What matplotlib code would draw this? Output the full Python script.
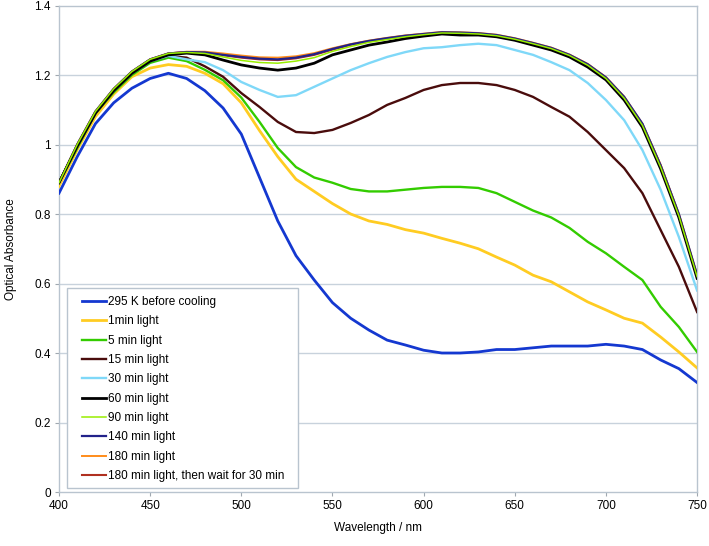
import matplotlib
matplotlib.use("Agg")
import matplotlib.pyplot as plt
from matplotlib.patches import Rectangle

plt.rcParams["font.family"] = ["Liberation Sans", "DejaVu Sans"]

wavelength = [400, 410, 420, 430, 440, 450, 460, 470, 480, 490,
              500, 510, 520, 530, 540, 550, 560, 570, 580, 590,
              600, 610, 620, 630, 640, 650, 660, 670, 680, 690,
              700, 710, 720, 730, 740, 750]

before_cooling = [0.86, 0.965, 1.06, 1.12, 1.162, 1.19, 1.205, 1.19, 1.155, 1.105,
                  1.03, 0.905, 0.78, 0.68, 0.61, 0.545, 0.50, 0.466, 0.437, 0.423,
                  0.408, 0.40, 0.40, 0.403, 0.41, 0.41, 0.415, 0.42, 0.42, 0.42,
                  0.425, 0.42, 0.41, 0.38, 0.355, 0.315]
light_1 = [0.88, 0.985, 1.08, 1.145, 1.195, 1.22, 1.23, 1.225, 1.205, 1.175,
           1.12, 1.04, 0.965, 0.90, 0.865, 0.83, 0.80, 0.78, 0.77, 0.755,
           0.745, 0.73, 0.716, 0.70, 0.676, 0.653, 0.624, 0.605, 0.576, 0.547,
           0.524, 0.50, 0.486, 0.446, 0.403, 0.357]
light_5 = [0.89, 0.99, 1.09, 1.15, 1.20, 1.235, 1.25, 1.24, 1.215, 1.185,
           1.135, 1.065, 0.99, 0.935, 0.905, 0.89, 0.872, 0.865, 0.865, 0.87,
           0.875, 0.878, 0.878, 0.875, 0.86, 0.835, 0.81, 0.79, 0.76, 0.72,
           0.687, 0.648, 0.61, 0.533, 0.475, 0.403]
light_15 = [0.89, 0.995, 1.09, 1.155, 1.205, 1.24, 1.255, 1.25, 1.225, 1.195,
            1.148, 1.108, 1.065, 1.036, 1.033, 1.042, 1.062, 1.085, 1.114, 1.134,
            1.157, 1.171, 1.177, 1.177, 1.171, 1.157, 1.137, 1.108, 1.08, 1.036,
            0.984, 0.932, 0.86, 0.754, 0.648, 0.518]
light_30 = [0.89, 0.995, 1.09, 1.155, 1.205, 1.24, 1.255, 1.245, 1.237, 1.214,
            1.18, 1.157, 1.137, 1.142, 1.166, 1.19, 1.214, 1.234, 1.252, 1.266,
            1.277, 1.28, 1.286, 1.29, 1.286, 1.272, 1.258, 1.237, 1.214, 1.177,
            1.128, 1.07, 0.984, 0.87, 0.734, 0.58]
light_60 = [0.89, 0.995, 1.09, 1.155, 1.205, 1.24, 1.258, 1.263, 1.258, 1.243,
            1.229, 1.22, 1.214, 1.22, 1.234, 1.258, 1.272, 1.286, 1.295, 1.305,
            1.312, 1.318, 1.315, 1.315, 1.31, 1.30, 1.286, 1.272, 1.252, 1.223,
            1.186, 1.128, 1.05, 0.93, 0.79, 0.615]
light_90 = [0.89, 1.0, 1.095, 1.16, 1.21, 1.245, 1.262, 1.265, 1.262, 1.252,
            1.242, 1.236, 1.234, 1.24, 1.25, 1.268, 1.282, 1.294, 1.302, 1.31,
            1.316, 1.321, 1.32, 1.318, 1.313, 1.303, 1.29, 1.276, 1.256, 1.228,
            1.19, 1.133, 1.055, 0.935, 0.795, 0.62]
light_140 = [0.89, 1.0, 1.095, 1.16, 1.21, 1.245, 1.262, 1.266, 1.265, 1.258,
             1.252, 1.247, 1.245, 1.25, 1.26, 1.275, 1.288, 1.298, 1.306, 1.313,
             1.318, 1.323, 1.322, 1.32, 1.315, 1.305, 1.292, 1.278, 1.258, 1.231,
             1.193, 1.137, 1.06, 0.94, 0.80, 0.625]
light_180 = [0.89, 1.0, 1.095, 1.16, 1.21, 1.245, 1.262, 1.267, 1.267, 1.262,
             1.256, 1.251, 1.25, 1.254, 1.263, 1.277, 1.289, 1.299, 1.307, 1.314,
             1.319, 1.324, 1.323, 1.321, 1.316, 1.306, 1.293, 1.279, 1.259, 1.232,
             1.194, 1.138, 1.06, 0.942, 0.80, 0.625]
light_180_wait = [0.89, 1.0, 1.095, 1.16, 1.21, 1.245, 1.262, 1.266, 1.264, 1.257,
                  1.25, 1.245, 1.243, 1.248, 1.258, 1.273, 1.287, 1.297, 1.305, 1.312,
                  1.317, 1.322, 1.321, 1.319, 1.314, 1.304, 1.291, 1.277, 1.257, 1.23,
                  1.192, 1.136, 1.058, 0.94, 0.798, 0.622]

# label, values, colour, line width, drawing order
series = [
    ("295 K before cooling", before_cooling, "#1438d0", 2.0, 3),
    ("1min light", light_1, "#ffcc22", 2.0, 3),
    ("5 min light", light_5, "#33cc00", 1.7, 3),
    ("15 min light", light_15, "#4a0c0c", 1.7, 3),
    ("30 min light", light_30, "#7fd8f8", 1.7, 3),
    ("60 min light", light_60, "#000000", 2.0, 5),
    ("90 min light", light_90, "#99ee00", 1.1, 6),
    ("140 min light", light_140, "#22228a", 1.6, 4),
    ("180 min light", light_180, "#ff8c1a", 1.4, 3.5),
    ("180 min light, then wait for 30 min", light_180_wait, "#b03020", 1.5, 3.2),
]

fig = plt.figure(figsize=(7.09, 5.46), dpi=100)
ax = fig.add_axes([0.0832, 0.0989, 0.9, 0.891])

grid_col = "#c8d2dc"
for y in [0.2, 0.4, 0.6, 0.8, 1.0, 1.2]:
    ax.axhline(y, color=grid_col, lw=1.0, zorder=0)

for label, values, color, lw, z in series:
    ax.plot(wavelength, values, color=color, lw=lw, label=label, zorder=z)

ax.set_xlim(400, 750)
ax.set_ylim(0, 1.4)
ax.set_xticks(range(400, 751, 50))
ax.set_yticks([0, 0.2, 0.4, 0.6, 0.8, 1.0, 1.2, 1.4])
ax.set_yticklabels(["0", "0.2", "0.4", "0.6", "0.8", "1", "1.2", "1.4"])
ax.tick_params(direction="out", length=3, width=0.8, color="#a0a8b0",
               labelsize=8.5, pad=3)
for s in ax.spines.values():
    s.set_color("#b9c4cf")
    s.set_linewidth(1.0)

ax.set_xlabel("Wavelength / nm", fontsize=8.5, labelpad=7)
ax.set_ylabel("Optical Absorbance", fontsize=8.5, labelpad=12)

# legend box drawn separately so the horizontal padding can be wider
box = Rectangle((67 / 709, 1 - 488 / 546), 231 / 709, 200 / 546,
                transform=fig.transFigure, facecolor="white",
                edgecolor="#b9c4cf", lw=1.0, zorder=10)
ax.add_artist(box)
box.set_clip_on(False)

leg = ax.legend(loc="upper left", bbox_to_anchor=(75 / 709, 1 - 289 / 546),
                bbox_transform=fig.transFigure, fontsize=8.5, frameon=False,
                handlelength=2.0, handletextpad=0.2,
                labelspacing=0.62, borderpad=0.6, borderaxespad=0)
leg.set_zorder(11)

fig.savefig("out.png", dpi=100)
